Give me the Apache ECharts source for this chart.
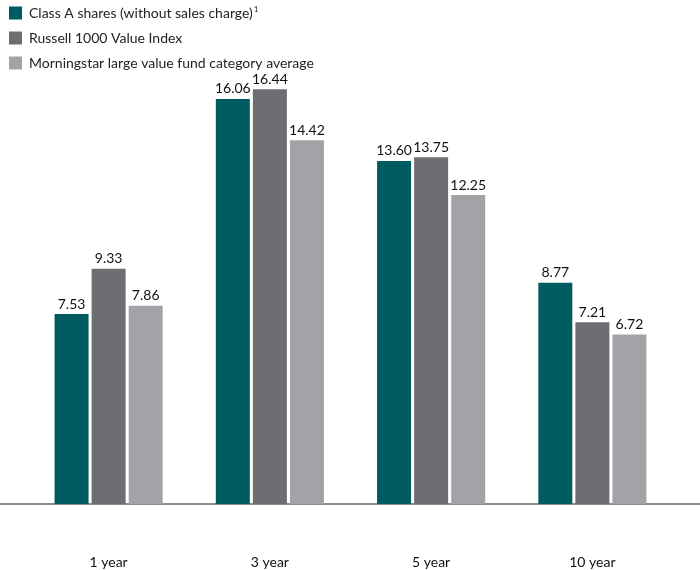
<!DOCTYPE html>
<html><head><meta charset="utf-8">
<script src="https://cdn.jsdelivr.net/npm/echarts@6/dist/echarts.min.js"></script>
<style>html,body{margin:0;padding:0;background:#fff}#c{width:700px;height:570px}</style>
</head><body><div id="c"></div>
<script>
const categories = ['1 year', '3 year', '5 year', '10 year'];
const seriesNames = ['Class A shares (without sales charge)', 'Russell 1000 Value Index', 'Morningstar large value fund category average'];
const classA = [7.53, 16.06, 13.60, 8.77];
const russell = [9.33, 16.44, 13.75, 7.21];
const morningstar = [7.86, 14.42, 12.25, 6.72];
const colors = ['#005c61', '#6d6e72', '#a2a3a7'];
const font = 'Lato';

const chart = echarts.init(document.getElementById('c'));
const mk = (name, data, i) => ({
  name, type: 'bar', data, barWidth: 34, barGap: '9%',
  itemStyle: { color: colors[i] },
  label: { show: true, position: 'top', distance: 3, color: '#111', fontFamily: font, fontSize: 14,
    formatter: p => p.value.toFixed(2) }
});
chart.setOption({
  animation: false,
  textStyle: { fontFamily: font },
  legend: {
    orient: 'vertical', left: 4, top: 0, itemWidth: 13, itemHeight: 13, itemGap: 11,
    icon: 'rect',
    data: seriesNames,
    formatter: n => n === seriesNames[0] ? n + '{sup|1}' : n,
    textStyle: { fontFamily: font, fontSize: 14, color: '#222', padding: [0,0,0,2],
      rich: { sup: { fontSize: 8, verticalAlign: 'top', padding: [0,0,8,1], color: '#222' } } }
  },
  grid: { left: 28, right: 27, top: 50, bottom: 66 },
  xAxis: {
    type: 'category', data: categories,
    axisLine: { show: false }, axisTick: { show: false },
    axisLabel: { color: '#111', fontSize: 14, fontFamily: font, margin: 51 }
  },
  yAxis: { type: 'value', min: 0, max: 18, show: false, splitLine: { show: false } },
  graphic: [{ type: 'line', shape: { x1: 0, y1: 504, x2: 700, y2: 504 }, style: { stroke: '#666', lineWidth: 1.5 } }],
  series: [mk(seriesNames[0], classA, 0), mk(seriesNames[1], russell, 1), mk(seriesNames[2], morningstar, 2)]
});
</script></body></html>
